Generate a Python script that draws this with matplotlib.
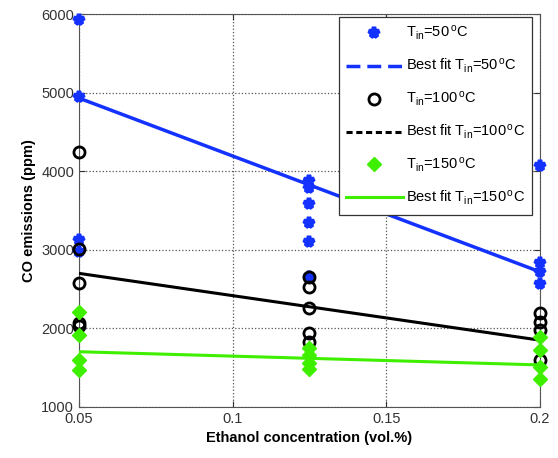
import matplotlib
matplotlib.use('Agg')
import matplotlib.pyplot as plt
from matplotlib.lines import Line2D

plt.rcParams['font.family'] = ['Liberation Sans', 'DejaVu Sans']
plt.rcParams['mathtext.default'] = 'regular'

# measured points, (concentration, CO ppm)
x_50 = [0.05, 0.05, 0.05, 0.05, 0.125, 0.125, 0.125, 0.125, 0.125, 0.125, 0.2, 0.2, 0.2, 0.2]
y_50 = [5930, 4950, 3120, 2970, 3870, 3780, 3580, 3340, 3100, 2660, 4060, 2830, 2720, 2560]

x_100 = [0.05, 0.05, 0.05, 0.05, 0.05, 0.125, 0.125, 0.125, 0.125, 0.125, 0.2, 0.2, 0.2, 0.2]
y_100 = [4250, 3010, 2580, 2070, 2030, 2660, 2530, 2260, 1940, 1830, 2190, 2080, 1980, 1600]

x_150 = [0.05, 0.05, 0.05, 0.05, 0.125, 0.125, 0.125, 0.125, 0.2, 0.2, 0.2, 0.2]
y_150 = [2210, 1920, 1600, 1470, 1750, 1660, 1560, 1480, 1890, 1720, 1510, 1350]

# best fit end points
fit_x = [0.05, 0.2]
fit_50 = [4930, 2720]
fit_100 = [2700, 1850]
fit_150 = [1703, 1535]

blue = '#1432ff'
green = '#3fef00'

fig = plt.figure(figsize=(5.58, 4.58), dpi=100)
ax = fig.add_axes([0.1416, 0.1114, 0.826, 0.858])

star = dict(ls='none', marker='*', ms=8, mew=3.2, color=blue)
circ = dict(ls='none', marker='o', ms=8, mew=2, mfc='none', mec='black')
diam = dict(ls='none', marker='D', ms=7, color=green)

ax.plot(x_50, y_50, zorder=3, clip_on=False, **star)
ax.plot(fit_x, fit_50, color=blue, lw=2.5, zorder=3)
ax.plot(x_100, y_100, zorder=4, clip_on=False, **circ)
ax.plot(fit_x, fit_100, color='black', lw=2.2, zorder=4)
ax.plot(x_150, y_150, zorder=5, clip_on=False, **diam)
ax.plot(fit_x, fit_150, color=green, lw=2.2, zorder=5)

ax.set_xlim(0.05, 0.2)
ax.set_ylim(1000, 6000)
ax.set_xticks([0.05, 0.1, 0.15, 0.2])
ax.set_xticklabels(['0.05', '0.1', '0.15', '0.2'])
ax.set_yticks([1000, 2000, 3000, 4000, 5000, 6000])
ax.tick_params(direction='in', top=True, right=True, labelsize=10.5, colors='#333333', length=4)
ax.grid(True, ls=':', color='#555555', lw=0.9)
for s in ax.spines.values():
    s.set_color('#555555')

ax.set_xlabel('Ethanol concentration (vol.%)', fontsize=10.5, fontweight='bold')
ax.set_ylabel('CO emissions (ppm)', fontsize=10.5, fontweight='bold')

handles = [
    Line2D([], [], **star),
    Line2D([], [], color=blue, lw=2.5, ls=(0, (4, 2))),
    Line2D([], [], **circ),
    Line2D([], [], color='black', lw=2.2, ls=(0, (2, 1.2))),
    Line2D([], [], **diam),
    Line2D([], [], color=green, lw=2.2),
]
labels = [r'T$_{in}$=50$^{\,o}$C', r'Best fit T$_{in}$=50$^{\,o}$C',
          r'T$_{in}$=100$^{\,o}$C', r'Best fit T$_{in}$=100$^{\,o}$C',
          r'T$_{in}$=150$^{\,o}$C', r'Best fit T$_{in}$=150$^{\,o}$C']
leg = ax.legend(handles, labels, loc='upper right', bbox_to_anchor=(0.983, 0.993),
                fontsize=10.5, fancybox=False, framealpha=1, edgecolor='#333333',
                handlelength=3.9, labelspacing=1.0, borderpad=0.5, handletextpad=0.2,
                borderaxespad=0)
leg.get_frame().set_linewidth(0.9)

fig.savefig('out.png', dpi=100)
